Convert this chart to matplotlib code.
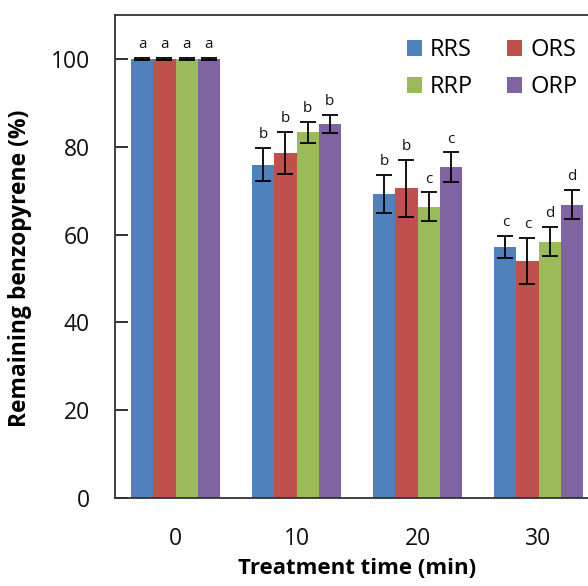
import matplotlib
matplotlib.use("Agg")
import matplotlib.pyplot as plt
import numpy as np

times = ["0", "10", "20", "30"]
series = ["RRS", "ORS", "RRP", "ORP"]
colors = ["#4F81BD", "#C0504D", "#9BBB59", "#8064A2"]

rrs = [100.0, 75.9, 69.3, 57.2]
ors = [100.0, 78.6, 70.5, 54.0]
rrp = [100.0, 83.3, 66.3, 58.4]
orp = [100.0, 85.2, 75.3, 66.8]

rrs_err = [0.2, 3.8, 4.3, 2.5]
ors_err = [0.2, 4.8, 6.5, 5.2]
rrp_err = [0.2, 2.4, 3.3, 3.3]
orp_err = [0.2, 2.0, 3.4, 3.3]

rrs_sig = ["a", "b", "b", "c"]
ors_sig = ["a", "b", "b", "c"]
rrp_sig = ["a", "b", "c", "d"]
orp_sig = ["a", "b", "c", "d"]

values = [rrs, ors, rrp, orp]
errors = [rrs_err, ors_err, rrp_err, orp_err]
sigs = [rrs_sig, ors_sig, rrp_sig, orp_sig]

plt.rcParams['font.family'] = ['Open Sans', 'DejaVu Sans']

W, H = 588, 586
fig = plt.figure(figsize=(W / 100, H / 100), dpi=100)
ax = fig.add_axes([115 / W, 1 - 498 / H, (599 - 115) / W, (498 - 15) / H])

x = np.arange(len(times))
bw = 0.182
handles = []
for i, (name, vals, errs, sg) in enumerate(zip(series, values, errors, sigs)):
    pos = x + (i - 1.5) * bw
    b = ax.bar(pos, vals, bw, color=colors[i], label=name, zorder=2,
               yerr=errs, error_kw=dict(ecolor="black", elinewidth=1.3,
                                        capsize=6, capthick=1.3, zorder=3))
    handles.append(b)
    for px, v, e, s in zip(pos, vals, errs, sg):
        ax.annotate(s, (px, v + e), xytext=(0, 7), textcoords="offset points",
                    ha="center", va="baseline", fontsize=11, color="#111111")

ax.set_xlim(-0.5, 3.5)
ax.set_ylim(0, 110)
ax.set_yticks([0, 20, 40, 60, 80, 100])
ax.set_xticks(x)
ax.set_xticklabels(times)
ax.tick_params(axis="y", direction="in", length=9, width=1.3, pad=18,
               labelsize=16.5, colors="#222222", labelcolor="#111111")
ax.tick_params(axis="x", length=0, pad=21, labelsize=16.5, labelcolor="#111111")
for sp in ["left", "bottom", "top", "right"]:
    ax.spines[sp].set_linewidth(1.3)
    ax.spines[sp].set_color("#333333")

ax.set_ylabel("Remaining benzopyrene (%)", fontsize=16.5, fontweight="bold")
ax.yaxis.set_label_coords(-0.172, 0.476)
ax.set_xlabel("Treatment time (min)", fontsize=16, fontweight="bold",
              labelpad=5)

order = [0, 2, 1, 3]
leg = fig.legend([handles[k] for k in order], [series[k] for k in order],
                 ncol=2, loc="upper left", bbox_to_anchor=(407 / W, 1 - 38 / H),
                 frameon=False, fontsize=17, handlelength=0.64,
                 handleheight=0.64, handletextpad=0.34, columnspacing=1.44,
                 labelspacing=0.57, borderpad=0, borderaxespad=0)

fig.savefig("out.png", dpi=100)
